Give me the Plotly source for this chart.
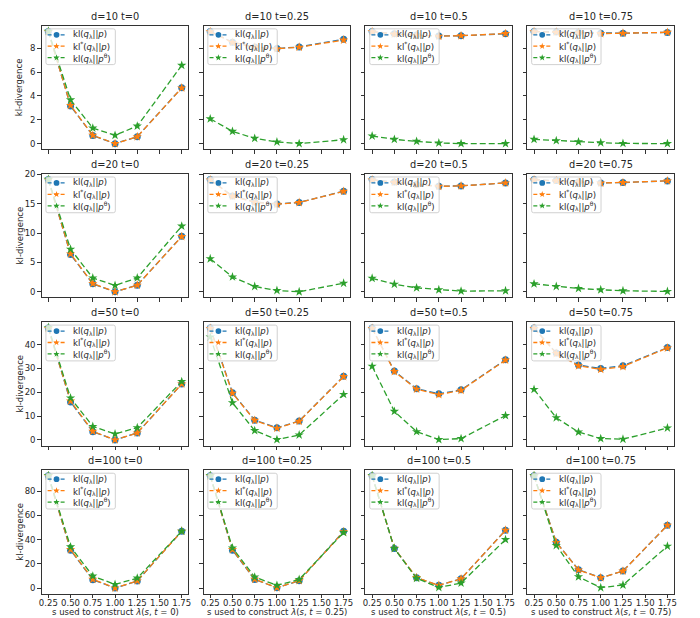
import math
import plotly.graph_objects as go
from plotly.subplots import make_subplots

# ---------------------------------------------------------------- data
S_VALUES = [0.25, 0.5, 0.75, 1.0, 1.25, 1.75]
X_TICKS = [0.25, 0.5, 0.75, 1.0, 1.25, 1.5, 1.75]
D_VALUES = [10, 20, 50, 100]
T_LABELS = ["0", "0.25", "0.5", "0.75"]
Y_TICKS = [[0, 2, 4, 6, 8], [0, 5, 10, 15, 20], [0, 10, 20, 30, 40], [0, 20, 40, 60, 80]]

SERIES_NAMES = [
    "kl(<i>q</i><sub>λ</sub>||<i>p</i>)",
    "kl<sup>*</sup>(<i>q</i><sub>λ</sub>||<i>p</i>)",
    "kl(<i>q</i><sub>λ</sub>||<i>p</i><sup>θ</sup>)",
]

# one list per t in (0, 0.25, 0.5, 0.75), values at each s in S_VALUES
kl_d10 = [
    [9.40, 3.15, 0.68, 0.00, 0.58, 4.68],
    [9.40, 8.50, 8.10, 7.97, 8.10, 8.75],
    [9.40, 9.20, 9.10, 9.02, 9.04, 9.20],
    [9.40, 9.36, 9.30, 9.24, 9.25, 9.32],
]
klstar_d10 = [
    [9.38, 3.20, 0.70, 0.00, 0.58, 4.66],
    [9.38, 8.48, 8.08, 7.95, 8.08, 8.68],
    [9.38, 9.18, 9.08, 9.00, 9.04, 9.22],
    [9.38, 9.34, 9.28, 9.22, 9.25, 9.32],
]
klth_d10 = [
    [9.42, 3.67, 1.30, 0.70, 1.47, 6.56],
    [2.08, 1.03, 0.44, 0.14, 0.00, 0.33],
    [0.64, 0.36, 0.19, 0.06, 0.00, 0.00],
    [0.36, 0.25, 0.15, 0.08, 0.02, 0.00],
]

kl_d20 = [
    [19.10, 6.35, 1.35, 0.00, 1.12, 9.44],
    [19.10, 16.30, 15.30, 14.94, 15.22, 17.13],
    [19.10, 18.70, 18.25, 17.98, 18.03, 18.54],
    [19.10, 18.95, 18.70, 18.54, 18.60, 18.88],
]
klstar_d20 = [
    [19.05, 6.45, 1.40, 0.00, 1.12, 9.40],
    [19.05, 16.25, 15.25, 14.90, 15.20, 17.10],
    [19.05, 18.65, 18.22, 17.95, 18.03, 18.54],
    [19.05, 18.92, 18.68, 18.50, 18.60, 18.88],
]
klth_d20 = [
    [19.15, 7.25, 2.36, 1.07, 2.36, 11.18],
    [5.62, 2.53, 0.90, 0.22, 0.00, 1.46],
    [2.30, 1.29, 0.67, 0.34, 0.11, 0.17],
    [1.35, 0.90, 0.56, 0.34, 0.17, 0.06],
]

kl_d50 = [
    [47.0, 15.9, 3.46, 0.00, 2.90, 23.5],
    [47.0, 19.8, 8.30, 5.10, 7.90, 26.7],
    [47.0, 28.9, 21.45, 19.40, 21.00, 33.6],
    [47.0, 36.5, 31.40, 30.00, 31.10, 38.75],
]
klstar_d50 = [
    [46.8, 16.3, 3.60, 0.00, 2.90, 23.5],
    [46.8, 19.6, 8.20, 4.90, 7.80, 26.6],
    [46.8, 28.7, 21.30, 19.00, 20.80, 33.5],
    [46.8, 36.3, 31.10, 29.60, 30.80, 38.6],
]
klth_d50 = [
    [47.2, 17.6, 5.67, 2.49, 5.12, 24.5],
    [43.2, 15.6, 3.90, 0.14, 2.08, 19.1],
    [30.9, 12.0, 3.46, 0.14, 0.55, 10.2],
    [21.2, 9.3, 3.30, 0.55, 0.28, 5.0],
]

kl_d100 = [
    [92.8, 31.3, 6.9, 0.0, 5.8, 47.0],
    [92.8, 31.3, 7.1, 0.3, 6.0, 47.0],
    [92.8, 32.7, 8.5, 2.2, 7.7, 47.8],
    [92.8, 37.9, 15.1, 8.5, 14.0, 51.9],
]
klstar_d100 = [
    [92.6, 31.8, 7.2, 0.0, 5.9, 47.0],
    [92.6, 31.8, 7.3, 0.3, 6.1, 46.6],
    [92.6, 32.9, 8.6, 2.2, 7.6, 47.8],
    [92.6, 37.7, 15.0, 8.5, 14.0, 51.9],
]
klth_d100 = [
    [93.0, 34.1, 9.9, 3.0, 8.2, 47.0],
    [93.0, 33.2, 9.1, 2.2, 7.1, 45.9],
    [93.0, 32.7, 8.0, 0.5, 4.1, 40.1],
    [93.0, 35.2, 9.3, 0.3, 2.5, 34.6],
]

ROWS = [
    (kl_d10, klstar_d10, klth_d10),
    (kl_d20, klstar_d20, klth_d20),
    (kl_d50, klstar_d50, klth_d50),
    (kl_d100, klstar_d100, klth_d100),
]

# ---------------------------------------------------------------- style
W, H = 700, 618
PANEL_W, PANEL_H = 148.0, 124.5
LEFT0, COL_STEP = 39.0, 163.3
TOP0, ROW_STEP = 21.7, 149.1
FONT = "DejaVu Sans"
TEXT_C = "#262626"
FRAME_C = "#333333"
COLORS = ["#1f77b4", "#ff7f0e", "#2ca02c"]
SYMBOLS = ["circle", "star", "star"]
MSIZES = [7, 7, 7]
DASH = "6px,3px"

fig = make_subplots(rows=4, cols=4)

for r in range(4):
    rows_data = ROWS[r]
    allv = [v for series in rows_data for lst in series for v in lst]
    lo, hi = min(allv), max(allv)
    pad = 0.05 * (hi - lo)
    yr = [lo - pad, hi + pad]
    for c in range(4):
        n = r * 4 + c + 1
        for k in range(3):
            fig.add_trace(
                go.Scatter(
                    x=S_VALUES,
                    y=rows_data[k][c],
                    mode="lines+markers",
                    name=SERIES_NAMES[k],
                    showlegend=False,
                    line=dict(color=COLORS[k], width=1.3, dash=DASH),
                    marker=dict(symbol=SYMBOLS[k], size=MSIZES[k], color=COLORS[k],
                                line=dict(width=0)),
                    hoverinfo="skip",
                ),
                row=r + 1, col=c + 1,
            )
        left = LEFT0 + c * COL_STEP
        top = TOP0 + r * ROW_STEP
        xk = "xaxis" if n == 1 else f"xaxis{n}"
        yk = "yaxis" if n == 1 else f"yaxis{n}"
        axis_common = dict(
            showline=True, mirror=True, linecolor=FRAME_C, linewidth=1,
            ticks="outside", ticklen=3.5, tickwidth=1, tickcolor=FRAME_C,
            showgrid=False, zeroline=False,
            tickfont=dict(family=FONT, size=8.5, color=TEXT_C),
        )
        fig.update_layout({
            xk: dict(
                domain=[left / W, (left + PANEL_W) / W],
                range=[0.175, 1.825],
                tickvals=X_TICKS,
                tickformat=".2f",
                showticklabels=(r == 3),
                ticklabelstandoff=-2,
                **axis_common,
            ),
            yk: dict(
                domain=[1 - (top + PANEL_H) / H, 1 - top / H],
                range=yr,
                tickvals=Y_TICKS[r],
                showticklabels=(c == 0),
                **axis_common,
            ),
        })

        xref = "x domain" if n == 1 else f"x{n} domain"
        yref = "y domain" if n == 1 else f"y{n} domain"

        def fx(px):
            return px / PANEL_W

        def fy(py):
            return 1 - py / PANEL_H

        # subplot title
        fig.add_annotation(
            text=f"d={D_VALUES[r]} t={T_LABELS[c]}",
            xref=xref, yref=yref, x=0.5, y=1, xanchor="center", yanchor="bottom",
            yshift=2, showarrow=False,
            font=dict(family=FONT, size=9.8, color=TEXT_C),
        )

        # legend box (rounded, semi-transparent)
        bx0, bx1, by0, by1, rad = 4.3, 74.3, 3.3, 39.3, 2.0
        path = (
            f"M {fx(bx0 + rad)},{fy(by0)} L {fx(bx1 - rad)},{fy(by0)} "
            f"Q {fx(bx1)},{fy(by0)} {fx(bx1)},{fy(by0 + rad)} "
            f"L {fx(bx1)},{fy(by1 - rad)} Q {fx(bx1)},{fy(by1)} {fx(bx1 - rad)},{fy(by1)} "
            f"L {fx(bx0 + rad)},{fy(by1)} Q {fx(bx0)},{fy(by1)} {fx(bx0)},{fy(by1 - rad)} "
            f"L {fx(bx0)},{fy(by0 + rad)} Q {fx(bx0)},{fy(by0)} {fx(bx0 + rad)},{fy(by0)} Z"
        )
        fig.add_shape(type="path", path=path, xref=xref, yref=yref, layer="above",
                      fillcolor="rgba(255,255,255,0.8)",
                      line=dict(color="rgba(204,204,204,0.9)", width=1))
        for k, yc in enumerate([9.3, 20.8, 32.3]):
            fig.add_shape(type="line", xref=xref, yref=yref, layer="above",
                          x0=fx(6.0), x1=fx(24.0), y0=fy(yc), y1=fy(yc),
                          line=dict(color=COLORS[k], width=1.3, dash="4px,2.5px"))
            mx = 15.0
            if k == 0:
                rr = 2.9
                fig.add_shape(type="circle", xref=xref, yref=yref, layer="above",
                              x0=fx(mx - rr), x1=fx(mx + rr),
                              y0=fy(yc + rr), y1=fy(yc - rr),
                              fillcolor=COLORS[k], line=dict(width=0))
            else:
                ro, ri = 3.4, 3.4 * 0.382
                pts = []
                for j in range(10):
                    ang = math.pi / 2 + j * math.pi / 5
                    rad_j = ro if j % 2 == 0 else ri
                    pts.append((fx(mx + rad_j * math.cos(ang)),
                                fy(yc - rad_j * math.sin(ang))))
                spath = "M " + " L ".join(f"{a},{b}" for a, b in pts) + " Z"
                fig.add_shape(type="path", path=spath, xref=xref, yref=yref,
                              layer="above", fillcolor=COLORS[k], line=dict(width=0))
            fig.add_annotation(
                text=SERIES_NAMES[k], xref=xref, yref=yref,
                x=fx(29.5), y=fy(yc), xanchor="left", yanchor="middle",
                showarrow=False, font=dict(family=FONT, size=8.5, color=TEXT_C),
            )

    # y-axis label on the first column
    top = TOP0 + r * ROW_STEP
    fig.add_annotation(
        text="kl-divergence", xref="paper", yref="paper",
        x=17 / W, y=1 - (top + PANEL_H / 2) / H, textangle=-90,
        xanchor="center", yanchor="middle", showarrow=False,
        font=dict(family=FONT, size=8.5, color=TEXT_C),
    )

# x-axis labels under the bottom row
for c in range(4):
    left = LEFT0 + c * COL_STEP
    fig.add_annotation(
        text=f"s used to construct <i>λ</i>(<i>s</i>, <i>t</i> = {T_LABELS[c]})",
        xref="paper", yref="paper",
        x=(left + PANEL_W / 2) / W, y=1 - 612 / H,
        xanchor="center", yanchor="middle", showarrow=False, borderpad=0,
        font=dict(family=FONT, size=8.5, color=TEXT_C),
    )

fig.update_layout(
    width=W, height=H,
    margin=dict(l=0, r=0, t=0, b=0),
    paper_bgcolor="white", plot_bgcolor="white",
    font=dict(family=FONT, size=8.5, color=TEXT_C),
    showlegend=False,
)

fig.write_html("out.html")
